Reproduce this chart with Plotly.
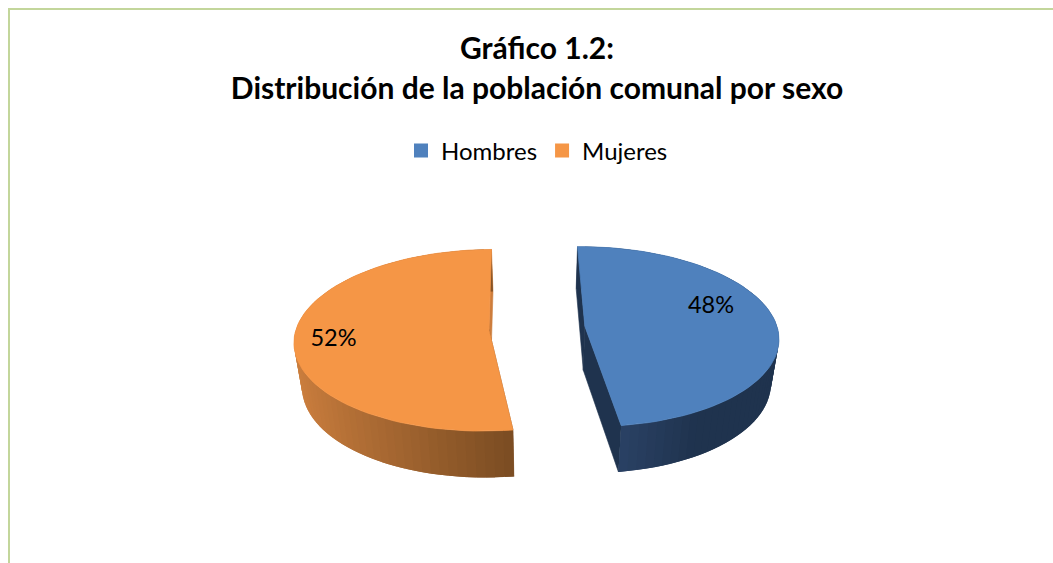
import math
import plotly.graph_objects as go

categories = ["Hombres", "Mujeres"]
values = [48, 52]
top_colors = ["#4F81BD", "#F59646"]
label_angles = [72, 261.6]
label_radii = [0.715, 0.80]
title_lines = ["Gráfico 1.2:", "Distribución de la población comunal por sexo"]

W, H = 1053, 563
VC, Y0 = 537, 328      # view centre
R, G = 192.5, 89.2     # ellipse radii
K = 0.1156             # perspective strength
EXPLODE = 0.25
DEPTH = 44
LOW = 0.967
ROTATION = math.radians(-0.8)
STEP = math.radians(2.5)


def project(X, Z, low=False):
    s = 1 / (1 - K * Z)
    f = LOW if low else 1
    return (VC + R * X * s * f, Y0 + G * Z * s * f + (DEPTH * s if low else 0))


def mix(a, b, t):
    t = max(0, min(1, t))
    return "rgb(%d,%d,%d)" % tuple(round(a[i] + (b[i] - a[i]) * t) for i in range(3))


def rim(a, ex, ez, low=False):
    return project(ex + math.sin(a), ez - math.cos(a), low)


def poly(pts, color, width=0.6):
    return go.Scatter(
        x=[p[0] for p in pts] + [pts[0][0]],
        y=[p[1] for p in pts] + [pts[0][1]],
        mode="lines", fill="toself", fillcolor=color,
        line=dict(color=color, width=width),
        hoverinfo="skip", showlegend=False,
    )


def angles(a, b):
    n = max(2, int((b - a) / STEP))
    return [a + (b - a) * i / n for i in range(n + 1)]


total = sum(values)
spans = []
acc = 0
for v in values:
    spans.append((ROTATION + acc / total * 2 * math.pi, ROTATION + (acc + v) / total * 2 * math.pi))
    acc += v

fig = go.Figure()
centres = []
for i, (a, b) in enumerate(spans):
    mid = (a + b) / 2
    ex, ez = EXPLODE * math.sin(mid), -EXPLODE * math.cos(mid)
    centres.append((ex, ez))
    apex = project(ex, ez)
    apex_low = project(ex, ez, True)
    if i == 0:   # Hombres: start wall is far, end wall is near
        far_color, near_color = "rgb(31,51,78)", "rgb(31,51,78)"
    else:
        far_color, near_color = "rgb(205,125,60)", "rgb(122,76,34)"
    far_a, near_a = (a, b) if i == 0 else (b, a)
    for w_a, col in ((far_a, far_color), (near_a, near_color)):
        fig.add_trace(poly([apex, rim(w_a, ex, ez), rim(w_a, ex, ez, True), apex_low], col))
    # outer wall: overlapping strips so no seams show
    seq = angles(a, b)
    pairs = list(zip(seq[:-1], seq[1:]))
    if i == 1:
        pairs = pairs[::-1]
    for p, q in pairs:
        m = (p + q) / 2
        if i == 0:
            col = mix((31, 51, 78), (42, 65, 100), (m - b + math.radians(22)) / math.radians(22))
            p2, q2 = p, min(q + STEP, b)
        else:
            col = mix((122, 76, 34), (206, 128, 63), (math.sin(m) - math.sin(a)) / (-1 - math.sin(a)))
            p2, q2 = max(p - STEP, a), q
        fig.add_trace(poly([rim(t, ex, ez) for t in (p2, q2)] +
                           [rim(t, ex, ez, True) for t in (q2, p2)], col, width=0))
    # top surface
    pts = [apex] + [rim(t, ex, ez) for t in seq]
    fig.add_trace(poly(pts, top_colors[i], width=0.8))

# percent labels
for i, v in enumerate(values):
    ex, ez = centres[i]
    t = math.radians(label_angles[i])
    x, y = project(ex + label_radii[i] * math.sin(t), ez - label_radii[i] * math.cos(t))
    fig.add_trace(go.Scatter(x=[x], y=[y], mode="text", text=[f"{v}%"],
                             textposition="middle center",
                             textfont=dict(family="Lato, Carlito, sans-serif", size=23.5, color="#000000"),
                             hoverinfo="skip", showlegend=False))

# legend entries
for name, c in zip(categories, top_colors):
    fig.add_trace(go.Scatter(x=[None], y=[None], mode="markers", name=name,
                             marker=dict(symbol="square", size=14, color=c)))

fig.update_layout(
    width=W, height=H,
    margin=dict(l=0, r=0, t=0, b=0),
    paper_bgcolor="#FFFFFF", plot_bgcolor="#FFFFFF",
    xaxis=dict(range=[0, W], visible=False, fixedrange=True),
    yaxis=dict(range=[H, 0], visible=False, fixedrange=True),
    title=dict(
        text=f"<b><span style='font-size:30px'>{title_lines[0]}<br>{title_lines[1]}</span></b>",
        x=537 / W, xanchor="center", y=1 - 59 / H, yanchor="top",
        font=dict(family="Lato, Carlito, sans-serif", size=30.7, color="#000000"),
    ),
    legend=dict(orientation="h", x=401 / W, xanchor="left", y=1 - 151 / H, yanchor="middle",
                font=dict(family="Lato, Carlito, sans-serif", size=24, color="#000000"),
                bgcolor="rgba(0,0,0,0)", traceorder="normal", itemclick=False, itemdoubleclick=False),
    shapes=[
        dict(type="line", xref="x", yref="y", x0=9, x1=9, y0=9, y1=H, line=dict(color="#C3D69B", width=2)),
        dict(type="line", xref="x", yref="y", x0=8, x1=W, y0=9, y1=9, line=dict(color="#C3D69B", width=2)),
    ],
)

fig.write_html("out.html", config={"displayModeBar": False},
               post_script="document.body.style.margin='0';")
